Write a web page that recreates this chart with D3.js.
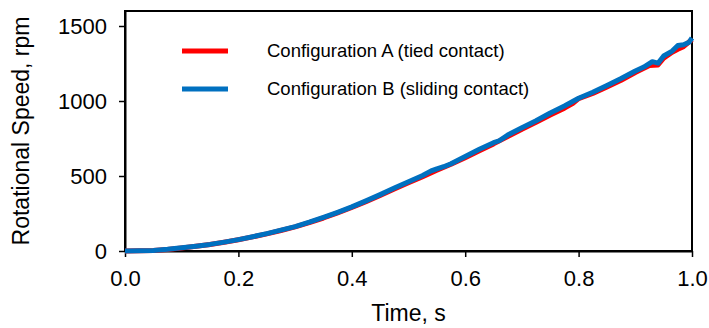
<html>
<head>
  <script src="https://d3js.org/d3.v7.min.js"></script>
  <style>
    body { margin: 0; background: #fff; }
    text { font-family: "Liberation Sans", Arial, sans-serif; }
  </style>
</head>
<body>
  <div id="chart"></div>
  <script>
    // data
    const seriesNames = ["Configuration A (tied contact)", "Configuration B (sliding contact)"];
    const seriesColors = ["#ff0000", "#0070c0"];
    const xTicks = [0, 0.2, 0.4, 0.6, 0.8, 1.0];
    const yTicks = [0, 500, 1000, 1500];

    const timeA = [0, .025, .05, .075, .1, .125, .15, .175, .2, .225, .25, .275, .3, .325, .35, .375, .4, .425, .45, .475, .5, .525, .55, .575, .6, .625, .65, .675, .7, .725, .75, .775, .79, .8, .825, .85, .875, .9, .925, .94, .95, .965, .975, .985, 1.0];
    const speedA = [0, 1, 4, 10, 20, 31, 43, 58, 75, 94, 114, 137, 161, 189, 220, 254, 290, 329, 370, 413, 455, 496, 538, 578, 622, 668, 714, 763, 812, 858, 907, 952, 985, 1016, 1050, 1094, 1138, 1190, 1236, 1240, 1285, 1325, 1345, 1362, 1410];

    const timeB = [0, .025, .05, .075, .1, .125, .15, .175, .2, .225, .25, .275, .3, .325, .35, .375, .4, .425, .45, .475, .5, .525, .54, .55, .562, .575, .6, .625, .65, .66, .675, .7, .725, .75, .775, .8, .825, .85, .875, .9, .915, .93, .94, .95, .965, .975, .985, .995, 1.0];
    const speedB = [0, 1, 4, 11, 21, 32, 44, 59, 76, 95, 116, 139, 163, 192, 224, 258, 294, 334, 376, 420, 462, 503, 534, 548, 562, 582, 630, 678, 722, 735, 773, 822, 868, 920, 967, 1018, 1058, 1104, 1150, 1200, 1226, 1262, 1252, 1300, 1333, 1370, 1375, 1392, 1420];

    const width = 709, height = 328;
    const margin = { top: 11, right: 17, bottom: 77, left: 125 };

    const svg = d3.select("#chart").append("svg")
      .attr("width", width)
      .attr("height", height);

    const x = d3.scaleLinear()
      .domain([0, 1])
      .range([margin.left, width - margin.right]);
    const y = d3.scaleLinear()
      .domain([0, 1600])
      .range([height - margin.bottom, margin.top]);

    // frame
    svg.append("rect")
      .attr("x", x(0)).attr("y", y(1600))
      .attr("width", x(1) - x(0)).attr("height", y(0) - y(1600))
      .attr("fill", "none").attr("stroke", "#000").attr("stroke-width", 2);

    const xAxis = svg.append("g")
      .attr("transform", `translate(0,${y(0)})`)
      .call(d3.axisBottom(x).tickValues(xTicks).tickFormat(d3.format(".1f")).tickSize(6).tickPadding(13).tickSizeOuter(0));
    const yAxis = svg.append("g")
      .attr("transform", `translate(${x(0)},0)`)
      .call(d3.axisLeft(y).tickValues(yTicks).tickFormat(d3.format("d")).tickSize(6).tickPadding(12).tickSizeOuter(0));

    [xAxis, yAxis].forEach(g => {
      g.selectAll("path").attr("stroke", "#000").attr("stroke-width", 2);
      g.selectAll("line").attr("stroke", "#000").attr("stroke-width", 1.5);
      g.selectAll("text")
        .attr("font-family", "Liberation Sans, Arial, sans-serif")
        .attr("font-size", 22).attr("fill", "#000");
    });

    svg.append("text")
      .attr("x", (x(0) + x(1)) / 2)
      .attr("y", 321)
      .attr("text-anchor", "middle")
      .attr("font-size", 23)
      .text("Time, s");

    svg.append("text")
      .attr("transform", `translate(29,${(y(0) + y(1600)) / 2}) rotate(-90)`)
      .attr("text-anchor", "middle")
      .attr("font-size", 23)
      .text("Rotational Speed, rpm");

    const line = d3.line()
      .x(d => x(d[0]))
      .y(d => y(d[1]));

    const series = [
      d3.zip(timeA, speedA),
      d3.zip(timeB, speedB)
    ];

    svg.append("g")
      .selectAll("path")
      .data(series)
      .join("path")
        .attr("d", line)
        .attr("fill", "none")
        .attr("stroke", (d, i) => seriesColors[i])
        .attr("stroke-width", 5)
        .attr("stroke-linejoin", "round");

    // legend
    const legend = svg.append("g")
      .selectAll("g")
      .data(seriesNames)
      .join("g")
        .attr("transform", (d, i) => `translate(182,${51 + i * 38})`);
    legend.append("line")
      .attr("x1", 0).attr("x2", 46)
      .attr("stroke", (d, i) => seriesColors[i])
      .attr("stroke-width", 5);
    legend.append("text")
      .attr("x", 85)
      .attr("dy", "0.35em")
      .attr("font-size", 18.5)
      .text(d => d);
  </script>
</body>
</html>
